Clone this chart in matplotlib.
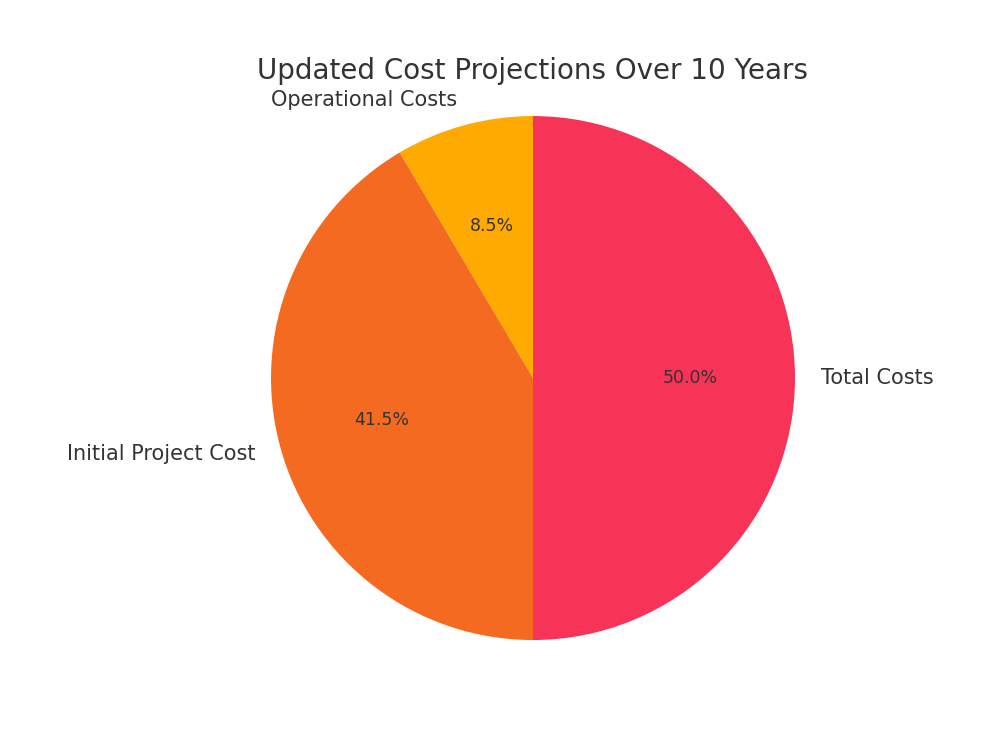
import matplotlib
matplotlib.use("Agg")
import matplotlib.pyplot as plt

labels = ['Operational Costs', 'Initial Project Cost', 'Total Costs']
values = [170, 830, 1000]
colors = ['#FFAA00', '#F46A21', '#F73357']

text_color = '#333333'

fig = plt.figure(figsize=(10, 7.5), dpi=100)
ax = fig.add_axes([0.2055, 0.0593, 0.655, 0.8733])

wedges, texts, autotexts = ax.pie(values, labels=labels, colors=colors,
                                  autopct='%1.1f%%', startangle=90,
                                  counterclock=True,
                                  textprops={'color': text_color})
for t in texts:
    t.set_fontsize(15)
for t in autotexts:
    t.set_fontsize(12.5)

ax.set_xlim(-1.25, 1.25)
ax.set_ylim(-1.25, 1.25)
ax.set_aspect('equal')

fig.text(0.5325, 1 - 71 / 750, 'Updated Cost Projections Over 10 Years',
         ha='center', va='center', fontsize=20, color=text_color)

fig.savefig('out.png', dpi=100)
